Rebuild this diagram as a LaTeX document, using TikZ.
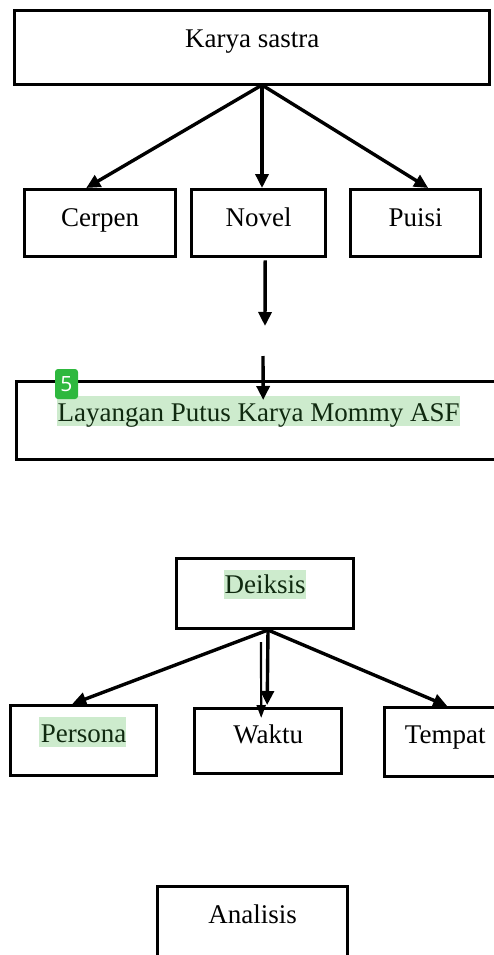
\documentclass[tikz,border=0pt]{standalone}
\usepackage{fontspec}
\setmainfont{Liberation Serif}
\newfontfamily\lencanafont{Open Sans}
\usetikzlibrary{arrows.meta,positioning}
\definecolor{sorot}{HTML}{CDEBCD}
\definecolor{hijau}{HTML}{2EB83E}
\definecolor{teksgelap}{HTML}{102A10}

\begin{document}
\begin{tikzpicture}[x=1pt,y=-1pt,
    kotak/.style={draw, line width=3.4pt, inner sep=0pt, anchor=north west,
        font=\fontsize{27}{30}\selectfont},
    panah/.style={-{Triangle[length=14pt,width=13pt]}, line width=3.4pt},
    panahtipis/.style={-{Triangle[length=13pt,width=9pt]}, line width=2.2pt},
    lencana/.style={fill=hijau, rounded corners=3pt, minimum width=23pt,
        minimum height=30pt, inner sep=0pt, text=white,
        font=\fontsize{21}{21}\lencanafont}]
    \clip (0,0) rectangle (494,955);

    % sorotan
    \fill[sorot] (57,396) rectangle (460,426);
    \fill[sorot] (224,570) rectangle (306,599);
    \fill[sorot] (39,717) rectangle (126,747);

    % karya sastra
    \node[kotak, minimum width=475pt, text height=37pt, text depth=37pt] (karya) at (13,9) {Karya sastra};
    \node[kotak, minimum width=151pt, text height=36.5pt, text depth=30.5pt] (cerpen) at (23,188) {Cerpen};
    \node[kotak, minimum width=134pt, text height=36.5pt, text depth=30.5pt] (novel) at (190,188) {Novel};
    \node[kotak, minimum width=130pt, text height=36.5pt, text depth=30.5pt] (puisi) at (349,188) {Puisi};

    \coordinate (cabang) at (262,85);
    \draw[panah] (cabang) -- ([xshift=-14pt]cerpen.north);
    \draw[panah] (cabang) -- (cabang |- novel.north);
    \draw[panah] (cabang) -- ([xshift=12.5pt]puisi.north);

    % judul novel
    \node[kotak, minimum width=484pt, text height=39.5pt, text depth=38.5pt, text=teksgelap] (layangan) at (15,380) {Layangan Putus Karya Mommy ASF};

    \coordinate (putus1) at (265,326);
    \coordinate (putus2) at (263,356);
    \draw[panah] ([xshift=6.5pt,yshift=-2pt]novel.south) -- (putus1);
    \draw[panah] (putus2) -- ([xshift=4.5pt,yshift=-20pt]layangan.north);

    % deiksis
    \node[kotak, minimum width=177pt, text height=34.5pt, text depth=35.5pt, text=teksgelap] (deiksis) at (175,557) {Deiksis};
    \node[kotak, minimum width=146pt, text height=36.5pt, text depth=33.5pt, text=teksgelap] (persona) at (9,704) {Persona};
    \node[kotak, minimum width=147pt, text height=34.5pt, text depth=30.5pt] (waktu) at (193,707) {Waktu};
    \node[kotak, minimum width=121pt, text height=35.5pt, text depth=33.5pt] (tempat) at (383,706) {Tempat};

    \coordinate (cabang2) at (268,630);
    \coordinate (garis) at (261,642);
    \draw[panah] (cabang2) -- ([xshift=-11.5pt]persona.north);
    \draw[panah] (cabang2) -- ([xshift=-1pt,yshift=2pt]waktu.north);
    \draw[panahtipis] (garis) -- ([xshift=-7pt,yshift=-11pt]waktu.north);
    \draw[panah] (cabang2) -- ([xshift=2pt]tempat.north);

    % analisis
    \node[kotak, minimum width=190pt, text height=36.5pt, text depth=45pt] (analisis) at (156,885) {Analisis};

    \node[lencana] (nomor) at (66.5,384) {5};
\end{tikzpicture}
\end{document}
